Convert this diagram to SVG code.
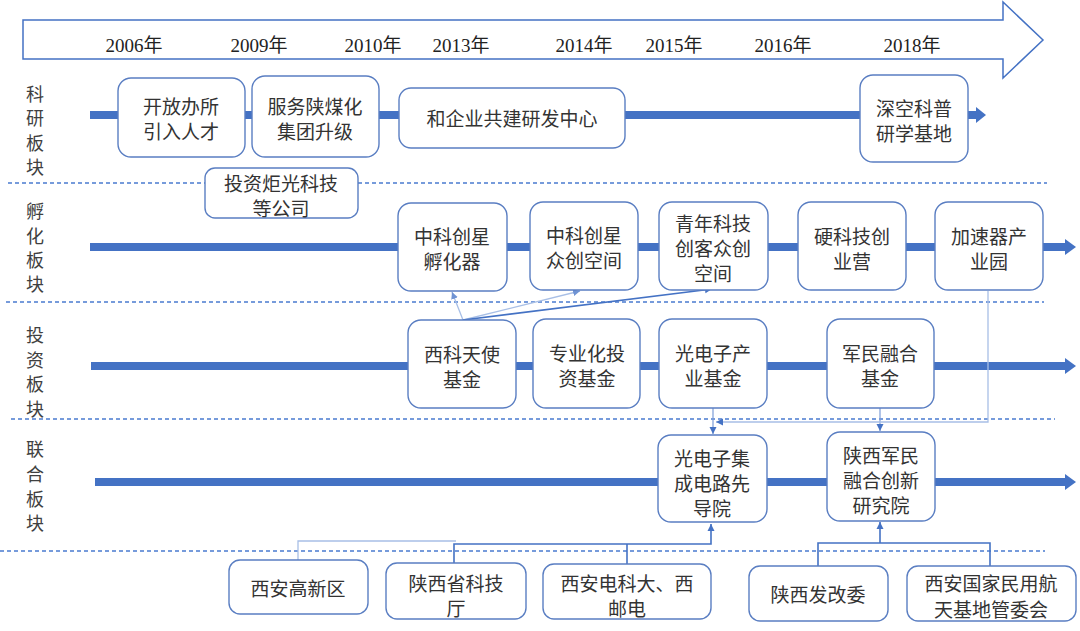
<svg xmlns="http://www.w3.org/2000/svg" width="1080" height="631" viewBox="0 0 1080 631">
<style>
.node rect{fill:#fff;stroke:#5A7EC2;stroke-width:1.4}
.node text,.lbl{font-family:"Noto Sans CJK SC","Noto Sans",sans-serif;font-size:19px;fill:#333;text-anchor:middle;dominant-baseline:central}
.lbl{fill:#404040;font-size:18px}
.yr{font-family:"Liberation Serif","Noto Sans CJK SC",serif;font-size:19px;fill:#222;text-anchor:middle}
.dash{stroke:#4A7BD0;stroke-width:1.5;stroke-dasharray:4 3;fill:none}
.tl{stroke:#4472C4;stroke-width:8;fill:none}
.tlh{fill:#4472C4}
.cl{stroke:#A8BFE6;stroke-width:1.3;fill:none}
.cm{stroke:#7C9DD8;stroke-width:1.2;fill:none}
.cd{stroke:#4472C4;stroke-width:1.6;fill:none}
</style>
<defs>
<marker id="ah" markerUnits="userSpaceOnUse" markerWidth="8" markerHeight="8" refX="7" refY="4" orient="auto">
<path d="M0,0.5 L7,4 L0,7.5 Z" fill="#4472C4"/>
</marker>
<marker id="ahl" markerUnits="userSpaceOnUse" markerWidth="8" markerHeight="8" refX="7" refY="4" orient="auto">
<path d="M0,0.5 L7,4 L0,7.5 Z" fill="#6F93D3"/>
</marker>
</defs>
<rect width="1080" height="631" fill="#fff"/>

<g id="timeline-header">
<path d="M23,20 H1003 V2 L1043,40 L1003,78 V59 H23 Z" fill="#fff" stroke="#4472C4" stroke-width="1.5"/>
<text class="yr" x="134" y="52">2006年</text>
<text class="yr" x="259" y="52">2009年</text>
<text class="yr" x="373" y="52">2010年</text>
<text class="yr" x="461" y="52">2013年</text>
<text class="yr" x="584" y="52">2014年</text>
<text class="yr" x="674" y="52">2015年</text>
<text class="yr" x="783" y="52">2016年</text>
<text class="yr" x="912" y="52">2018年</text>
</g>

<g id="sections">
<line class="dash" x1="8" y1="183" x2="1047" y2="183"/>
<line class="dash" x1="6" y1="302" x2="1044" y2="302"/>
<line class="dash" x1="11" y1="419" x2="1055" y2="419"/>
<line class="dash" x1="0" y1="551" x2="1045" y2="551"/>
<text class="lbl" x="35" y="93">科</text><text class="lbl" x="35" y="117">研</text><text class="lbl" x="35" y="142">板</text><text class="lbl" x="35" y="166">块</text>
<text class="lbl" x="35" y="210">孵</text><text class="lbl" x="35" y="235">化</text><text class="lbl" x="35" y="259">板</text><text class="lbl" x="35" y="283">块</text>
<text class="lbl" x="35" y="334">投</text><text class="lbl" x="35" y="359">资</text><text class="lbl" x="35" y="383">板</text><text class="lbl" x="35" y="408">块</text>
<text class="lbl" x="35" y="448">联</text><text class="lbl" x="35" y="473">合</text><text class="lbl" x="35" y="498">板</text><text class="lbl" x="35" y="522">块</text>
</g>

<g id="timelines">
<line class="tl" x1="90" y1="115" x2="977" y2="115"/><polygon class="tlh" points="976,107 986,115 976,123"/>
<line class="tl" x1="90" y1="247" x2="1066" y2="247"/><polygon class="tlh" points="1065,239 1076,247 1065,255"/>
<line class="tl" x1="91" y1="366" x2="1066" y2="366"/><polygon class="tlh" points="1065,358 1076,366 1065,374"/>
<line class="tl" x1="95" y1="482" x2="1066" y2="482"/><polygon class="tlh" points="1065,474 1076,482 1065,490"/>
</g>

<g id="connectors">
<line class="cl" x1="463" y1="320" x2="452" y2="292" marker-end="url(#ahl)"/>
<line class="cl" x1="463" y1="320" x2="580" y2="291" marker-end="url(#ahl)"/>
<line class="cd" x1="463" y1="320" x2="712" y2="289" marker-end="url(#ah)"/>
<line class="cm" x1="713" y1="408" x2="713" y2="434" marker-end="url(#ah)"/>
<line class="cm" x1="880" y1="408" x2="880" y2="431" marker-end="url(#ah)"/>
<polyline class="cl" points="988,291 988,422 716,422" marker-end="url(#ah)"/>
<polyline class="cl" points="298,560 298,541 456,541"/>
<polyline class="cd" points="454,563 454,544 711,544 711,524" marker-end="url(#ah)"/>
<line class="cd" x1="627" y1="564" x2="627" y2="544"/>
<polyline class="cd" points="818,566 818,543 990,543 990,566"/>
<line class="cd" x1="880" y1="543" x2="880" y2="522" marker-end="url(#ah)"/>
</g>

<g id="n1" class="node"><rect x="118" y="78" width="127" height="79" rx="13"/><text x="181" y="105">开放办所</text><text x="181" y="130">引入人才</text></g>
<g id="n2" class="node"><rect x="252" y="76" width="127" height="81" rx="13"/><text x="315" y="105">服务陕煤化</text><text x="315" y="130">集团升级</text></g>
<g id="n3" class="node"><rect x="399" y="88" width="226" height="60" rx="12"/><text x="512" y="117">和企业共建研发中心</text></g>
<g id="n4" class="node"><rect x="860" y="75" width="108" height="87" rx="13"/><text x="914" y="107">深空科普</text><text x="914" y="132">研学基地</text></g>
<g id="n5" class="node"><rect x="205" y="168" width="153" height="50" rx="10"/><text x="281" y="182">投资炬光科技</text><text x="281" y="207">等公司</text></g>

<g id="n6" class="node"><rect x="398" y="203" width="109" height="88" rx="13"/><text x="452" y="235">中科创星</text><text x="452" y="260">孵化器</text></g>
<g id="n7" class="node"><rect x="530" y="202" width="108" height="88" rx="13"/><text x="584" y="234">中科创星</text><text x="584" y="259">众创空间</text></g>
<g id="n8" class="node"><rect x="659" y="202" width="109" height="88" rx="13"/><text x="713" y="222">青年科技</text><text x="713" y="247">创客众创</text><text x="713" y="272">空间</text></g>
<g id="n9" class="node"><rect x="798" y="202" width="108" height="88" rx="13"/><text x="852" y="235">硬科技创</text><text x="852" y="260">业营</text></g>
<g id="n10" class="node"><rect x="935" y="202" width="108" height="88" rx="13"/><text x="989" y="235">加速器产</text><text x="989" y="260">业园</text></g>

<g id="n11" class="node"><rect x="408" y="320" width="108" height="88" rx="13"/><text x="462" y="353">西科天使</text><text x="462" y="378">基金</text></g>
<g id="n12" class="node"><rect x="533" y="319" width="107" height="89" rx="13"/><text x="587" y="352">专业化投</text><text x="587" y="377">资基金</text></g>
<g id="n13" class="node"><rect x="659" y="319" width="108" height="89" rx="13"/><text x="713" y="352">光电子产</text><text x="713" y="377">业基金</text></g>
<g id="n14" class="node"><rect x="827" y="319" width="107" height="89" rx="13"/><text x="880" y="352">军民融合</text><text x="880" y="377">基金</text></g>

<g id="n15" class="node"><rect x="658" y="435" width="109" height="87" rx="13"/><text x="712" y="457">光电子集</text><text x="712" y="482">成电路先</text><text x="712" y="507">导院</text></g>
<g id="n16" class="node"><rect x="827" y="432" width="108" height="89" rx="13"/><text x="881" y="454">陕西军民</text><text x="881" y="479">融合创新</text><text x="881" y="504">研究院</text></g>

<g id="n17" class="node"><rect x="229" y="560" width="139" height="54" rx="11"/><text x="298" y="587">西安高新区</text></g>
<g id="n18" class="node"><rect x="386" y="563" width="140" height="56" rx="11"/><text x="456" y="582">陕西省科技</text><text x="456" y="607">厅</text></g>
<g id="n19" class="node"><rect x="543" y="564" width="168" height="55" rx="11"/><text x="627" y="582">西安电科大、西</text><text x="627" y="607">邮电</text></g>
<g id="n20" class="node"><rect x="749" y="566" width="139" height="55" rx="11"/><text x="818" y="593">陕西发改委</text></g>
<g id="n21" class="node"><rect x="907" y="566" width="169" height="55" rx="11"/><text x="991" y="582">西安国家民用航</text><text x="991" y="608">天基地管委会</text></g>
</svg>
